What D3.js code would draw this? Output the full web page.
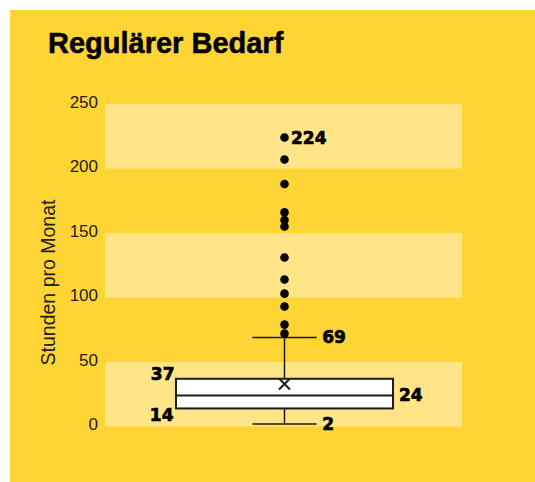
<!DOCTYPE html>
<html>
<head>
<meta charset="utf-8">
<script src="https://cdn.jsdelivr.net/npm/d3@7"></script>
<style>
  html, body { margin: 0; padding: 0; background: #ffffff; }
  svg { display: block; }
</style>
</head>
<body>
<svg id="chart" width="535" height="482"></svg>
<script>
// ---- data ----
const title = "Regulärer Bedarf";
const yAxisLabel = "Stunden pro Monat";
const categories = ["Regulärer Bedarf"];
const whiskerLow = [2];
const quartile1 = [14];
const medians = [24];
const quartile3 = [37];
const whiskerHigh = [69];
const means = [33];
const outliers = [224, 207, 188, 166, 160, 155, 131, 114, 103, 93, 79, 72];
const yTicks = [0, 50, 100, 150, 200, 250];
const bandStarts = [0, 100, 200];
const bandSize = 50;

// ---- setup ----
const W = 535, H = 482;
const svg = d3.select("#chart");
const bg = "#FFD535", bandColor = "#FFE587", ink = "#1a1a1a";

svg.append("rect").attr("x", 10).attr("y", 10).attr("width", W - 10).attr("height", H - 10).attr("fill", bg);

svg.append("text").attr("x", 48).attr("y", 53)
  .attr("font-family", "'Liberation Sans', Arial, Helvetica, sans-serif")
  .attr("font-weight", "bold").attr("font-size", 29).attr("fill", "#000")
  .attr("stroke", "#000").attr("stroke-width", 0.5)
  .text(title);

const y = d3.scaleLinear().domain([0, 250]).range([426.5, 104]);
const x = d3.scaleBand().domain(categories).range([105, 462]).padding(0);

// bands
svg.append("g").selectAll("rect").data(bandStarts).join("rect")
  .attr("x", x.range()[0]).attr("width", x.range()[1] - x.range()[0])
  .attr("y", d => y(d + bandSize)).attr("height", d => y(d) - y(d + bandSize))
  .attr("fill", bandColor);

// y axis (tick labels only)
const yAxis = d3.axisLeft(y).tickValues(yTicks).tickSize(0).tickPadding(0);
const ga = svg.append("g").attr("transform", "translate(98,-2)").call(yAxis);
ga.select(".domain").remove();
ga.selectAll("text").attr("font-family", "'Liberation Sans', Arial, Helvetica, sans-serif")
  .attr("font-size", 17).attr("fill", "#222");

svg.append("text").attr("transform", "translate(55,282.5) rotate(-90)")
  .attr("text-anchor", "middle")
  .attr("font-family", "'Liberation Sans', Arial, Helvetica, sans-serif")
  .attr("font-size", 19.5).attr("fill", "#222").text(yAxisLabel);

// box plot
const labelFont = "'DejaVu Sans', Verdana, sans-serif";
categories.forEach((c, i) => {
  const cx = x(c) + x.bandwidth() / 2 + 1;
  const boxW = x.bandwidth() * 0.608;
  const capW = x.bandwidth() * 0.18;
  const g = svg.append("g");

  // whiskers
  g.append("line").attr("x1", cx).attr("x2", cx).attr("y1", y(whiskerHigh[i])).attr("y2", y(quartile3[i]))
    .attr("stroke", ink).attr("stroke-width", 1.5);
  g.append("line").attr("x1", cx).attr("x2", cx).attr("y1", y(quartile1[i])).attr("y2", y(whiskerLow[i]))
    .attr("stroke", ink).attr("stroke-width", 1.5);
  [whiskerHigh[i], whiskerLow[i]].forEach(v => {
    g.append("line").attr("x1", cx - capW / 2).attr("x2", cx + capW / 2).attr("y1", y(v)).attr("y2", y(v))
      .attr("stroke", ink).attr("stroke-width", 1.5);
  });

  // box
  g.append("rect").attr("x", cx - boxW / 2).attr("width", boxW)
    .attr("y", y(quartile3[i])).attr("height", y(quartile1[i]) - y(quartile3[i]))
    .attr("fill", "#fff").attr("stroke", ink).attr("stroke-width", 2);
  g.append("line").attr("x1", cx - boxW / 2).attr("x2", cx + boxW / 2)
    .attr("y1", y(medians[i])).attr("y2", y(medians[i]))
    .attr("stroke", ink).attr("stroke-width", 2);

  // mean marker
  const my = y(means[i]), s = 5.5;
  g.append("path").attr("d", `M${cx - s},${my - s}L${cx + s},${my + s}M${cx - s},${my + s}L${cx + s},${my - s}`)
    .attr("stroke", ink).attr("stroke-width", 2).attr("fill", "none");

  // outliers
  g.selectAll("circle").data(outliers).join("circle")
    .attr("cx", cx).attr("cy", d => y(d)).attr("r", 4.3).attr("fill", "#000");

  // labels
  const lab = (tx, ty, txt, anchor) => g.append("text").attr("x", tx).attr("y", ty)
    .attr("text-anchor", anchor || "start")
    .attr("font-family", labelFont).attr("font-weight", "bold").attr("font-size", 17)
    .attr("fill", "#000").attr("stroke", "#000").attr("stroke-width", 0.7)
    .text(txt);
  const mx = d3.max(outliers);
  lab(cx + 6.5, y(mx) + 6, mx);
  lab(cx + capW / 2 + 5.5, y(whiskerHigh[i]) + 6, whiskerHigh[i]);
  lab(cx + capW / 2 + 5.5, y(whiskerLow[i]) + 6, whiskerLow[i]);
  lab(cx + boxW / 2 + 6, y(medians[i]) + 5, medians[i]);
  lab(cx - boxW / 2 - 1.5, y(quartile3[i]) + 1.5, quartile3[i], "end");
  lab(cx - boxW / 2 - 2.5, y(quartile1[i]) + 12.5, quartile1[i], "end");
});
</script>
</body>
</html>
